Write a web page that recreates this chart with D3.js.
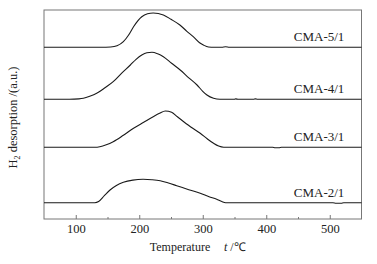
<!DOCTYPE html>
<html>
<head>
<meta charset="utf-8">
<script src="https://cdn.jsdelivr.net/npm/d3@7"></script>
<style>
html,body{margin:0;padding:0;background:#fff;}
svg{display:block;}
text{font-family:"Liberation Serif","Times New Roman",serif;fill:#222;}
</style>
</head>
<body>
<svg id="chart" width="377" height="264"></svg>
<script>
// ---- data ----
const seriesNames = ["CMA-2/1", "CMA-3/1", "CMA-4/1", "CMA-5/1"];
const seriesOffsets = [16.3, 71.7, 119.7, 171.7]; // vertical offsets (a.u.)
const cma21 = [[50,0],[80,0],[130,0],[136,1.2],[145,7],[154,12.7],[164,17.2],[175,20.4],[190,22.6],[206,23.4],[220,23],[233,22],[246,19.7],[259,17],[278,13],[296,9.4],[310,6],[322,3.4],[330,1.2],[336,0],[505,0],[510,-0.5],[518,-0.5],[522,0],[550,0]];
const cma31 = [[50,0],[130,0],[138,0.6],[148,2.5],[159,5.6],[175,12],[191,19],[207,25],[222,30.6],[232,34],[241,36.3],[251,35],[260,30.5],[270,25.6],[283,19.5],[296,14],[307,8.5],[317,4],[325,1.2],[333,0],[410,0],[414,-0.5],[420,-0.5],[424,0],[550,0]];
const cma41 = [[50,0],[90,0],[105,0.4],[112,1],[122,3],[133,6],[146,11.5],[159,17.6],[172,26],[186,34.3],[195,40],[204,44.3],[212,46.5],[220,47],[229,45.5],[238,42.6],[251,36],[264.5,29.3],[278,21.5],[291,14.3],[300,8],[306.6,4.3],[317,1],[327,0],[350,0],[352,0.4],[356,0],[380,0],[383,0.4],[386,0],[550,0]];
const cma51 = [[50,0],[100,0],[140,0],[155,0.3],[165,1.5],[175,5.6],[183,12],[191,20.6],[204,30.6],[213,33.5],[222,34.3],[238,32.3],[250,28],[264,22.3],[275,16],[285,10.6],[295,4.5],[301,2.3],[309,0.3],[318,0],[330,0],[336,0.5],[342,0],[400,0],[550,0]];
const seriesValues = [cma21, cma31, cma41, cma51];
const majorTicks = [100, 200, 300, 400, 500];
const minorTicks = [150, 250, 350, 450];
const xDomain = [50, 550];
const yDomain = [0, 209];
const xTitle = "Temperature";
const labelTemp = 523;

// ---- layout ----
const svg = d3.select("#chart");
const L = 44, R = 361.5, T = 10, B = 219;
const x = d3.scaleLinear().domain(xDomain).range([L, R]);
const y = d3.scaleLinear().domain(yDomain).range([B, T]);
const frameColor = "#777";

// frame
svg.append("rect").attr("x", L).attr("y", T).attr("width", R - L).attr("height", B - T)
  .attr("fill", "none").attr("stroke", frameColor).attr("stroke-width", 1);

// axes
const ax = svg.append("g").attr("transform", `translate(0,${B})`)
  .call(d3.axisBottom(x).tickValues(majorTicks).tickSizeInner(-4).tickSizeOuter(0).tickPadding(5).tickFormat(d3.format("d")));
ax.select(".domain").remove();
ax.selectAll(".tick line").attr("stroke", frameColor);
ax.selectAll(".tick text").attr("font-size", "12.5px").attr("font-family", "Liberation Serif, serif").attr("fill", "#222");

const axm = svg.append("g").attr("transform", `translate(0,${B})`)
  .call(d3.axisBottom(x).tickValues(minorTicks).tickSizeInner(-2).tickSizeOuter(0).tickFormat(""));
axm.select(".domain").remove();
axm.selectAll(".tick line").attr("stroke", frameColor);

// curves
const line = d3.line().curve(d3.curveMonotoneX);
seriesValues.forEach((vals, i) => {
  const off = seriesOffsets[i];
  svg.append("path")
    .attr("d", line(vals.map(d => [x(d[0]), y(d[1] + off)])))
    .attr("fill", "none").attr("stroke", "#1a1a1a").attr("stroke-width", 1.1);
  svg.append("text")
    .attr("x", x(labelTemp)).attr("y", y(off) - 6.2)
    .attr("text-anchor", "end").attr("font-size", "13px")
    .text(seriesNames[i]);
});

// x title
const xt = svg.append("text").attr("x", 180).attr("y", 251).attr("text-anchor", "middle").attr("font-size", "12px");
xt.text(xTitle);
const xu = svg.append("text").attr("x", 224).attr("y", 251).attr("font-size", "12px");
xu.append("tspan").attr("font-style", "italic").text("t");
xu.append("tspan").text(" /℃");

// y title
const yt = svg.append("text").attr("transform", "translate(17,117.5) rotate(-90)")
  .attr("text-anchor", "middle").attr("font-size", "12.5px");
yt.append("tspan").text("H");
yt.append("tspan").attr("font-size", "8px").attr("dy", 3).text("2");
yt.append("tspan").attr("dy", -3).text(" desorption /(a.u.)");
</script>
</body>
</html>
